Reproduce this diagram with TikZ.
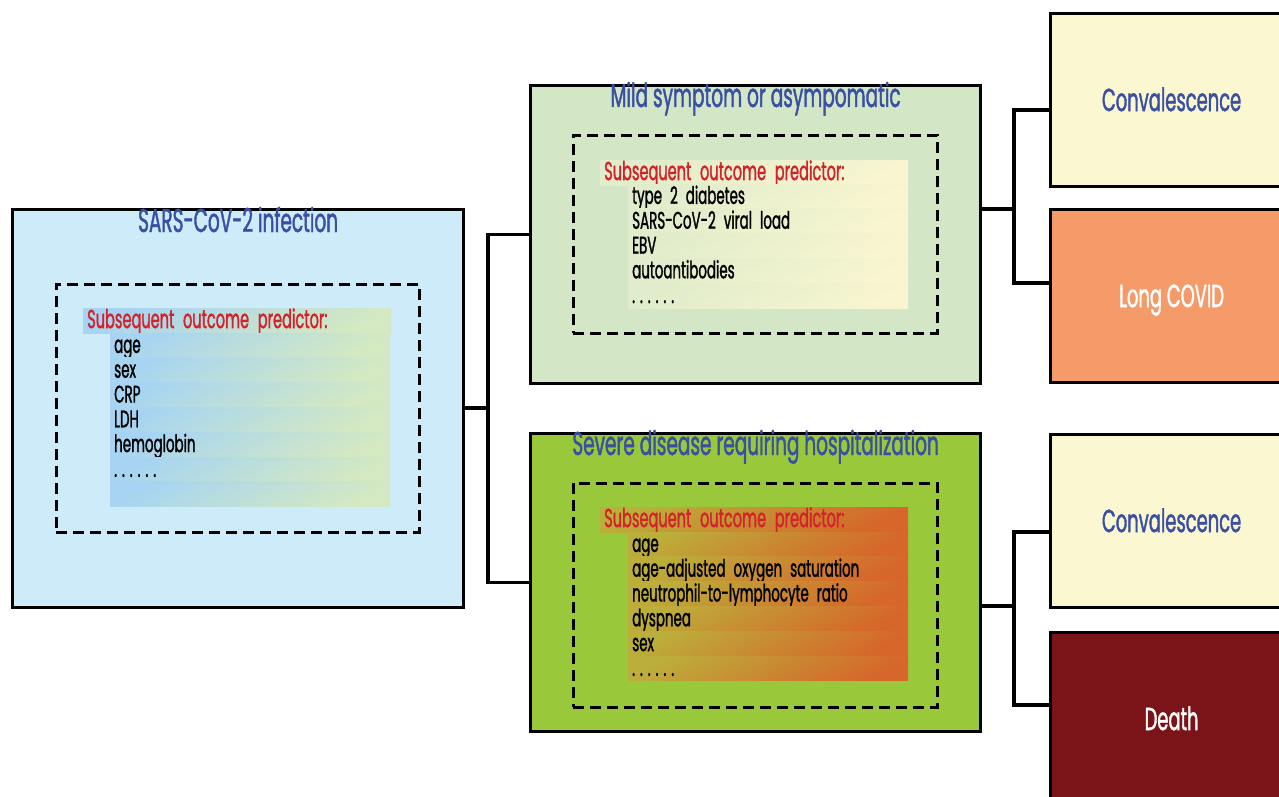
\documentclass[tikz,border=0pt]{standalone}
\usepackage{fontspec}
\setmainfont[FakeStretch=0.56, FakeBold=1.2]{Poppins}
\definecolor{infbg}{HTML}{CDEBF8}
\definecolor{mildbg}{HTML}{D3E7C7}
\definecolor{sevbg}{HTML}{99C93B}
\definecolor{convbg}{HTML}{FBF7D1}
\definecolor{longbg}{HTML}{F59A69}
\definecolor{deathbg}{HTML}{7A1418}
\definecolor{titleblue}{HTML}{3A4FA3}
\definecolor{headred}{HTML}{D2232A}
\definecolor{infA}{HTML}{A6D4F2}
\definecolor{infB}{HTML}{D4E9C2}
\definecolor{mildA}{HTML}{E0ECCB}
\definecolor{mildB}{HTML}{F8F5D0}
\definecolor{sevA}{HTML}{BCAE3A}
\definecolor{sevB}{HTML}{D6662A}
\newcommand\etcdots{.\hspace{5pt}.\hspace{5pt}.\hspace{5pt}.\hspace{5pt}.\hspace{5pt}.}
\usetikzlibrary{positioning,calc}

\begin{document}
\begin{tikzpicture}[x=1pt, y=-1pt,
  stage/.style={draw=black, line width=3.2pt, fill=#1, anchor=north west,
    inner sep=0pt},
  outcome/.style={stage=#1, minimum width=242, minimum height=173,
    text height=22, text depth=0, font=\fontsize{32}{34}\selectfont},
  ttl/.style={anchor=base, text=titleblue, inner sep=0pt,
    font=\fontsize{33}{36}\selectfont},
  frame/.style={draw=black, line width=2.6pt, dash pattern=on 11pt off 6pt,
    anchor=north west, inner sep=0pt},
  band/.style n args={3}{top color=#1, bottom color=#2, shading angle=28,
    anchor=north west, inner xsep=4pt, inner ysep=0pt, text width=#3-8,
    align=left, minimum height=24.8, text height=17, text depth=2,
    font=\fontsize{24}{26}\selectfont},
  head/.style n args={2}{band={#1}{#2}{308}, text=headred,
    font=\fontsize{26}{28}\selectfont},
  link/.style={draw=black, line width=3.2pt}
]
  \fill[white] (0,0) rectangle (1279,797);
  \useasboundingbox (0,0) rectangle (1279,797);
  \clip (0,0) rectangle (1279,797);

  % Stages
  \node[stage=infbg, minimum width=451, minimum height=398] (inf) at (11,208) {};
  \node[stage=mildbg, minimum width=450, minimum height=298] (mild) at (529,84) {};
  \node[stage=sevbg, minimum width=450, minimum height=298] (sev) at (529,432) {};

  \node[ttl] (infT) at ([yshift=-24]inf.north) {SARS-CoV-2 infection};
  \node[ttl] (mildT) at ([yshift=-23]mild.north) {Mild symptom or asympomatic};
  \node[ttl] (sevT) at ([yshift=-23]sev.north) {Severe disease requiring hospitalization};

  % Predictor frames
  \node[frame, minimum width=363, minimum height=248] (infF) at (55,283) {};
  \node[frame, minimum width=364, minimum height=198] (mildF) at (572,134) {};
  \node[frame, minimum width=364, minimum height=224] (sevF) at (572,482) {};

  % Predictor lists
  \node[head={infA}{infB}] (infH) at (83,308) {Subsequent outcome predictor:};
  \foreach \item [count=\i] in {age,sex,CRP,LDH,hemoglobin,\etcdots,{}}
    \node[band={infA}{infB}{280}] (inf\i) at (110,{308+24.8*\i}) {\item};

  \node[head={mildA}{mildB}] (mildH) at (600,160) {Subsequent outcome predictor:};
  \foreach \item [count=\i] in {type 2 diabetes,SARS-CoV-2 viral load,EBV,
      autoantibodies,\etcdots}
    \node[band={mildA}{mildB}{280}] (mild\i) at (628,{159+24.8*\i}) {\item};

  \node[head={sevA}{sevB}] (sevH) at (600,507) {Subsequent outcome predictor:};
  \foreach \item [count=\i] in {age,age-adjusted oxygen saturation,
      neutrophil-to-lymphocyte ratio,dyspnea,sex,\etcdots}
    \node[band={sevA}{sevB}{280}] (sev\i) at (628,{507+24.8*\i}) {\item};

  % Outcomes
  \node[outcome=convbg, text=titleblue] (conv1) at (1049,12) {Convalescence};
  \node[outcome=longbg, text=white] (long) at (1049,208) {Long COVID};
  \node[outcome=convbg, text=titleblue] (conv2) at (1049,433) {Convalescence};
  \node[outcome=deathbg, text=white] (death) at (1049,631) {Death};

  % Connectors
  \coordinate (j1) at (488,408);
  \coordinate (j2) at (1014,209);
  \coordinate (j2a) at (1014,110);
  \coordinate (j2b) at (1014,283);
  \coordinate (j3) at (1014,606);
  \coordinate (j3a) at (1014,532);
  \coordinate (j3b) at (1014,705);

  \draw[link] (inf.east |- j1) -- (j1);
  \draw[link] (mild.west) -| (j1) |- (sev.west);
  \draw[link] (mild.east |- j2) -- (j2);
  \draw[link] (j2a -| conv1.west) -- (j2a) -- (j2b) -- (j2b -| long.west);
  \draw[link] (sev.east |- j3) -- (j3);
  \draw[link] (j3a -| conv2.west) -- (j3a) -- (j3b) -- (j3b -| death.west);
\end{tikzpicture}
\end{document}
